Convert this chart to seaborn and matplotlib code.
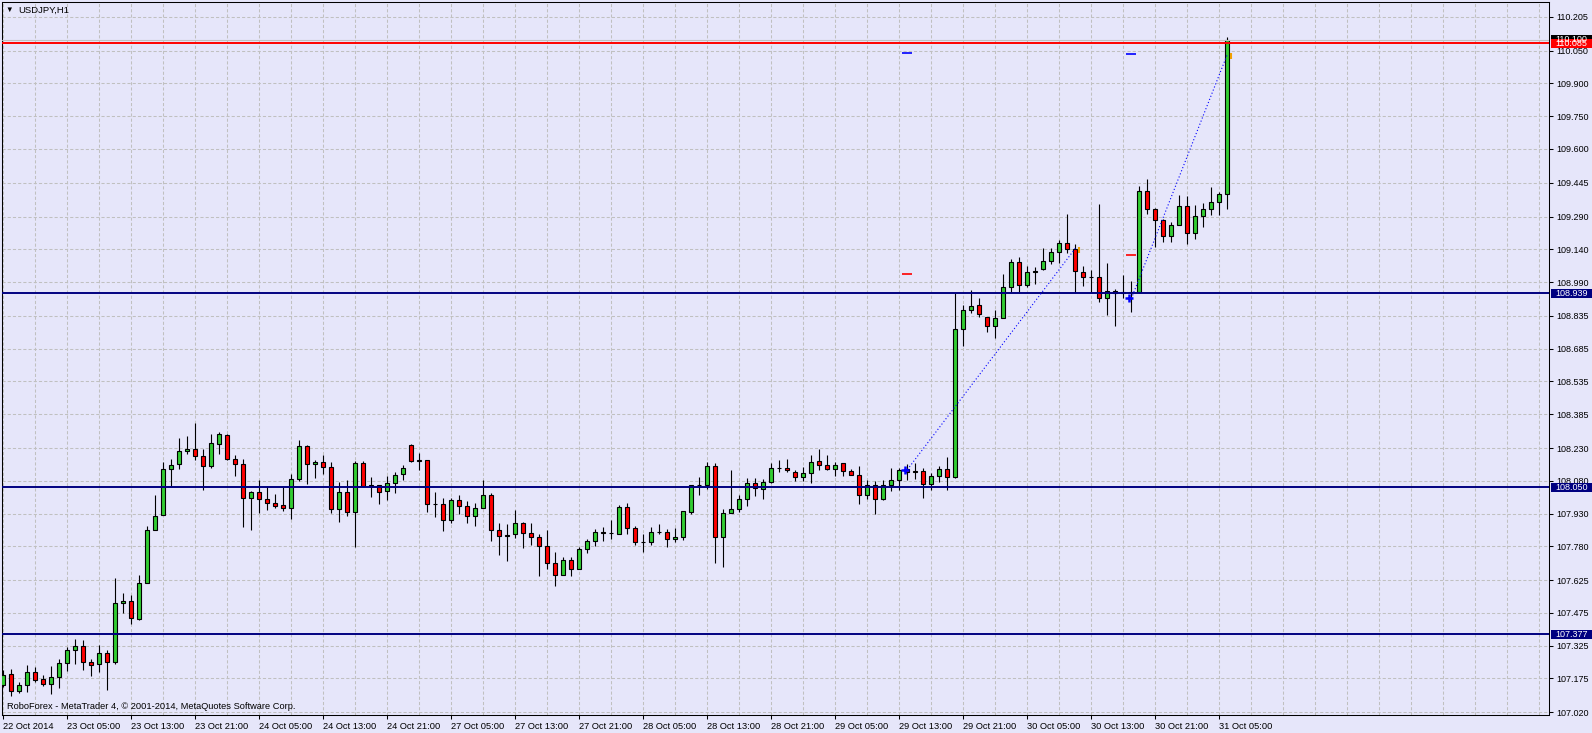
import matplotlib
matplotlib.use('Agg')
import matplotlib.pyplot as plt
import matplotlib.transforms as mtransforms
from matplotlib.patches import Rectangle
import numpy as np
import pandas as pd
import seaborn as sns

# USDJPY H1 candles, 22 Oct 21:00 .. 31 Oct 06:00 (weekend skipped)
opens = [107.144, 107.196, 107.115, 107.144, 107.202, 107.170, 107.147, 107.179, 107.243, 107.303,
         107.321, 107.248, 107.239, 107.293, 107.248, 107.522, 107.531, 107.449, 107.613, 107.855,
         107.924, 108.134, 108.157, 108.216, 108.225, 108.193, 108.146, 108.248, 108.289, 108.180,
         108.157, 108.002, 108.029, 107.997, 107.980, 107.970, 107.956, 108.088, 108.239, 108.157,
         108.166, 108.143, 107.951, 108.029, 107.938, 108.161, 108.055, 108.061, 108.032, 108.072,
         108.109, 108.244, 108.171, 108.175, 107.974, 107.974, 107.901, 107.992, 107.965, 107.919,
         107.957, 108.015, 107.855, 107.828, 107.835, 107.887, 107.842, 107.823, 107.782, 107.705,
         107.650, 107.718, 107.677, 107.769, 107.805, 107.846, 107.840, 107.837, 107.962, 107.864,
         107.799, 107.801, 107.845, 107.846, 107.814, 107.823, 107.936, 108.061, 108.061, 108.148,
         107.823, 107.933, 107.951, 107.997, 108.070, 108.043, 108.075, 108.139, 108.139, 108.120,
         108.096, 108.116, 108.171, 108.152, 108.132, 108.161, 108.125, 108.107, 108.015, 108.061,
         107.997, 108.061, 108.082, 108.136, 108.120, 108.126, 108.065, 108.102, 108.136, 108.096,
         108.777, 108.864, 108.883, 108.831, 108.788, 108.826, 108.968, 109.083, 108.976, 109.037,
         109.049, 109.087, 109.130, 109.171, 109.142, 109.034, 109.015, 109.015, 108.919, 108.951,
         108.942, 108.944, 108.943, 109.409, 109.327, 109.276, 109.201, 109.253, 109.340, 109.217,
         109.295, 109.327, 109.356, 109.392]
highs = [107.213, 107.220, 107.158, 107.236, 107.227, 107.190, 107.230, 107.263, 107.318, 107.354,
         107.350, 107.263, 107.327, 107.303, 107.633, 107.568, 107.555, 107.647, 107.875, 108.014,
         108.167, 108.181, 108.277, 108.286, 108.346, 108.225, 108.292, 108.305, 108.292, 108.198,
         108.181, 108.035, 108.082, 108.058, 108.021, 108.052, 108.113, 108.268, 108.244, 108.177,
         108.198, 108.167, 108.076, 108.085, 108.172, 108.172, 108.099, 108.061, 108.104, 108.122,
         108.154, 108.250, 108.209, 108.175, 108.027, 108.000, 108.000, 108.015, 107.985, 107.976,
         108.085, 108.024, 107.887, 107.880, 107.948, 107.893, 107.887, 107.834, 107.855, 107.755,
         107.732, 107.730, 107.776, 107.811, 107.861, 107.866, 107.898, 107.970, 107.979, 107.875,
         107.834, 107.866, 107.884, 107.857, 107.864, 107.942, 108.061, 108.099, 108.167, 108.163,
         107.951, 108.131, 108.017, 108.091, 108.091, 108.087, 108.163, 108.177, 108.181, 108.131,
         108.143, 108.198, 108.227, 108.199, 108.166, 108.161, 108.135, 108.149, 108.085, 108.079,
         108.085, 108.140, 108.140, 108.157, 108.162, 108.140, 108.116, 108.148, 108.191, 108.938,
         108.887, 108.956, 108.915, 108.831, 108.860, 109.029, 109.098, 109.107, 109.063, 109.061,
         109.148, 109.147, 109.182, 109.301, 109.166, 109.063, 109.046, 109.346, 109.079, 108.960,
         109.021, 108.994, 109.430, 109.461, 109.331, 109.281, 109.266, 109.388, 109.383, 109.342,
         109.351, 109.424, 109.403, 110.114]
lows = [107.134, 107.093, 107.106, 107.114, 107.160, 107.138, 107.102, 107.132, 107.210, 107.242,
        107.214, 107.187, 107.205, 107.123, 107.242, 107.476, 107.424, 107.444, 107.610, 107.854,
        107.921, 108.058, 108.132, 108.204, 108.177, 108.037, 108.137, 108.201, 108.177, 108.100,
        107.868, 107.854, 107.933, 107.945, 107.954, 107.941, 107.904, 108.078, 108.064, 108.091,
        108.110, 107.931, 107.890, 107.918, 107.776, 108.052, 108.005, 107.973, 107.991, 108.024,
        108.082, 108.167, 108.128, 107.936, 107.915, 107.849, 107.887, 107.930, 107.886, 107.872,
        107.954, 107.802, 107.740, 107.712, 107.819, 107.772, 107.785, 107.644, 107.674, 107.598,
        107.648, 107.644, 107.677, 107.750, 107.781, 107.804, 107.811, 107.834, 107.834, 107.785,
        107.753, 107.785, 107.837, 107.778, 107.799, 107.808, 107.930, 108.017, 108.040, 107.703,
        107.685, 107.933, 107.936, 107.963, 108.009, 107.995, 108.068, 108.119, 108.122, 108.078,
        108.078, 108.068, 108.128, 108.128, 108.104, 108.104, 108.105, 107.973, 107.995, 107.927,
        107.992, 108.032, 108.039, 108.082, 108.088, 107.999, 108.036, 108.073, 108.036, 108.091,
        108.699, 108.849, 108.828, 108.760, 108.736, 108.826, 108.944, 108.941, 108.968, 108.983,
        109.044, 109.072, 109.079, 109.125, 108.942, 108.973, 108.942, 108.899, 108.840, 108.789,
        108.918, 108.854, 108.939, 109.302, 109.151, 109.174, 109.174, 109.253, 109.165, 109.186,
        109.243, 109.296, 109.296, 109.324]
closes = [107.192, 107.115, 107.144, 107.202, 107.167, 107.147, 107.179, 107.243, 107.303, 107.325,
          107.248, 107.237, 107.293, 107.248, 107.522, 107.531, 107.453, 107.613, 107.855, 107.919,
          108.134, 108.152, 108.216, 108.225, 108.193, 108.148, 108.253, 108.295, 108.180, 108.157,
          108.002, 108.030, 107.997, 107.979, 107.965, 107.956, 108.088, 108.239, 108.157, 108.166,
          108.143, 107.951, 108.029, 107.938, 108.161, 108.055, 108.061, 108.029, 108.070, 108.107,
          108.139, 108.171, 108.175, 107.974, 107.973, 107.901, 107.992, 107.965, 107.919, 107.957,
          108.015, 107.855, 107.828, 107.832, 107.887, 107.842, 107.822, 107.782, 107.705, 107.650,
          107.718, 107.677, 107.769, 107.805, 107.846, 107.841, 107.841, 107.962, 107.864, 107.799,
          107.801, 107.845, 107.847, 107.814, 107.823, 107.942, 108.061, 108.062, 108.148, 107.823,
          107.933, 107.951, 107.997, 108.070, 108.047, 108.075, 108.139, 108.140, 108.128, 108.096,
          108.116, 108.166, 108.151, 108.132, 108.152, 108.123, 108.105, 108.015, 108.061, 107.997,
          108.061, 108.085, 108.131, 108.120, 108.126, 108.065, 108.102, 108.136, 108.096, 108.777,
          108.864, 108.881, 108.843, 108.788, 108.826, 108.968, 109.083, 108.976, 109.037, 109.043,
          109.087, 109.128, 109.171, 109.142, 109.041, 109.015, 109.013, 108.919, 108.951, 108.942,
          108.944, 108.943, 109.409, 109.327, 109.276, 109.201, 109.253, 109.340, 109.217, 109.295,
          109.327, 109.356, 109.392, 110.100]

time_tick_bars = [0, 8, 16, 24, 32, 40, 48, 56, 64, 72, 80, 88, 96, 104, 112, 120, 128, 136, 144, 152]
time_tick_labels = ['22 Oct 2014', '23 Oct 05:00', '23 Oct 13:00', '23 Oct 21:00', '24 Oct 05:00',
                    '24 Oct 13:00', '24 Oct 21:00', '27 Oct 05:00', '27 Oct 13:00', '27 Oct 21:00',
                    '28 Oct 05:00', '28 Oct 13:00', '28 Oct 21:00', '29 Oct 05:00', '29 Oct 13:00',
                    '29 Oct 21:00', '30 Oct 05:00', '30 Oct 13:00', '30 Oct 21:00', '31 Oct 05:00']
price_ticks = [110.205, 110.050, 109.900, 109.750, 109.600, 109.445, 109.290, 109.140, 108.990,
               108.835, 108.685, 108.535, 108.385, 108.230, 108.080, 107.930, 107.780, 107.625,
               107.475, 107.325, 107.175, 107.020]

support_levels = [108.939, 108.050, 107.377]
resistance_level = 110.085
bid_price = 110.100

# two buy trades: entry bar/price -> exit bar/price, plus TP/SL markers
trade_id = [1, 1, 2, 2]
trade_bar = [113, 134, 141, 153]
trade_price = [108.131, 109.145, 108.915, 110.034]
tp_bar = [113, 141]
tp_price = [110.038, 110.034]
sl_bar = [113, 141]
sl_price = [109.029, 109.116]

bg = '#E6E6FA'
bull = '#32CD32'
bear = '#FF0000'
navy = '#000080'

sns.set_style('ticks', rc={'axes.facecolor': bg, 'figure.facecolor': bg,
                           'axes.edgecolor': 'black', 'axes.linewidth': 0.75,
                           'xtick.color': 'black', 'ytick.color': 'black'})
plt.rcParams['font.family'] = ['Liberation Sans', 'DejaVu Sans']

fig = plt.figure(figsize=(15.92, 7.33), dpi=100)
ax = fig.add_axes([2 / 1592, 1 - 715 / 733, 1547 / 1592, 713 / 733])

df = pd.DataFrame({'open': opens, 'high': highs, 'low': lows, 'close': closes})
df['bar'] = np.arange(len(df))
df['bottom'] = df[['open', 'close']].min(axis=1)
df['body'] = (df['close'] - df['open']).abs()
colors = np.where(df['close'] >= df['open'], bull, bear)

# wicks and bodies
ax.vlines(df['bar'], df['low'], df['high'], color='black', lw=0.8, zorder=2)
ax.bar(df['bar'], df['body'], bottom=df['bottom'], width=0.5, color=colors,
       edgecolor='black', linewidth=0.8, zorder=3)

# horizontal levels
ax.axhline(bid_price, color='#C0C0C0', lw=0.8, zorder=4)
ax.axhline(resistance_level, color='red', lw=1.4, zorder=4)
for lv in support_levels:
    ax.axhline(lv, color=navy, lw=1.4, zorder=4)

# trade history lines
trades = pd.DataFrame({'trade': trade_id, 'bar': trade_bar, 'price': trade_price})
sns.lineplot(data=trades, x='bar', y='price', units='trade', estimator=None, color='blue',
             lw=0.8, linestyle=(0, (1, 2)), ax=ax, legend=False, zorder=4)
entries = trades.groupby('trade').first()
exits = trades.groupby('trade').last()
ax.plot(entries['bar'] - 0.3, entries['price'], ls='none', marker='+', ms=6, mew=1.8,
        color='blue', zorder=5)
ax.plot(exits['bar'] + 0.4, exits['price'] - 0.01, ls='none', marker='|', ms=5, mew=1.5,
        color='#F0A000', zorder=5)
ax.plot(tp_bar, tp_price, ls='none', marker='_', ms=7, mew=1.2, color='blue', zorder=5)
ax.plot(sl_bar, sl_price, ls='none', marker='_', ms=7, mew=1.2, color='red', zorder=5)

ax.set_xlim(-0.16, 193.2)
ax.set_ylim(107.007, 110.273)

# grid
ax.set_xticks(time_tick_bars)
ax.set_xticks(np.arange(0, 196, 4), minor=True)
ax.set_xticklabels(time_tick_labels)
plt.setp(ax.get_xticklabels(), ha='left')
ax.set_yticks(price_ticks)
ax.set_yticklabels([f'{p:.3f}' for p in price_ticks])
ax.yaxis.tick_right()
ax.grid(True, which='both', axis='x', color='#C0C0C0', linestyle=(0, (3, 2)), lw=0.75)
ax.grid(True, which='major', axis='y', color='#C0C0C0', linestyle=(0, (3, 2)), lw=0.75)
ax.tick_params(axis='x', which='major', labelsize=6.7, length=3, width=0.75, pad=2)
ax.tick_params(axis='x', which='minor', length=0)
ax.tick_params(axis='y', labelsize=6.5, length=3, width=0.75, pad=2.5)
ax.set_xlabel('')
ax.set_ylabel('')
for s in ax.spines.values():
    s.set_visible(True)
    s.set_color('black')
    s.set_linewidth(0.75)

# price boxes on the right scale
trans = mtransforms.blended_transform_factory(ax.transAxes, ax.transData)
box_h = 9 / 218.3
boxes = [(bid_price, 'black'), (resistance_level, 'red')] + [(lv, navy) for lv in support_levels]
for p, c in boxes:
    ax.add_patch(Rectangle((1.0013, p - box_h / 2), 0.0265, box_h, transform=trans,
                           clip_on=False, fc=c, ec='none', zorder=6))
    ax.text(1.0039, p, f'{p:.3f}', transform=trans, ha='left', va='center',
            fontsize=6.5, color='white', zorder=7, clip_on=False)

# header and footer text
ax.text(0.0048, 0.988, '\u25bc', transform=ax.transAxes, fontsize=5.5, ha='center',
        va='center', color='black')
ax.text(0.0105, 0.988, 'USDJPY,H1', transform=ax.transAxes, fontsize=6.8, ha='left',
        va='center', color='black')
ax.text(0.0032, 0.0115, 'RoboForex - MetaTrader 4, \u00a9 2001-2014, MetaQuotes Software Corp.',
        transform=ax.transAxes, fontsize=6.7, ha='left', va='center', color='black')

fig.savefig('out.png', dpi=100, facecolor=bg)
